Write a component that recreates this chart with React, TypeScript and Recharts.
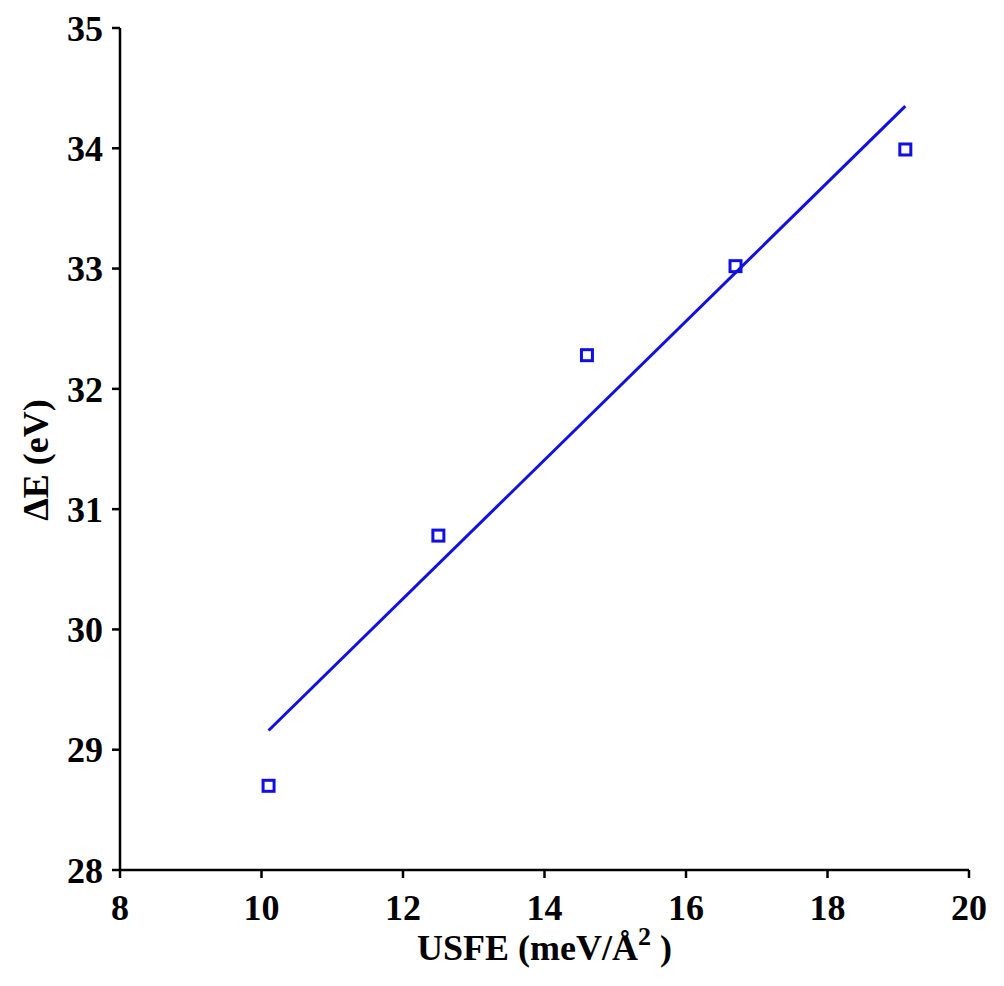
import { ScatterChart, Scatter, XAxis, YAxis, Label } from "recharts";

// measured points: USFE (meV/Å^2) vs ΔE (eV)
const usfe = [10.1, 12.5, 14.6, 16.7, 19.1];
const deltaE = [28.7, 30.78, 32.28, 33.02, 33.99];

// end points of the fitted line
const fitX = [10.1, 19.1];
const fitY = [29.16, 34.35];

const xTicks = [8, 10, 12, 14, 16, 18, 20];
const yTicks = [28, 29, 30, 31, 32, 33, 34, 35];

const points = usfe.map((x, i) => ({ x, y: deltaE[i] }));
const fit = fitX.map((x, i) => ({ x, y: fitY[i] }));

const BLUE = "#1010e0";
const FONT = "'Liberation Serif', 'Times New Roman', serif";

const SquareMark = (props: any) => {
  const { cx, cy } = props;
  return (
    <rect
      x={cx - 5.5}
      y={cy - 5.5}
      width={11}
      height={11}
      fill="none"
      stroke={BLUE}
      strokeWidth={3}
    />
  );
};

const NoMark = () => <g />;

const XTitle = (props: any) => {
  const { viewBox } = props;
  const cx = viewBox.x + viewBox.width / 2;
  return (
    <text
      x={cx}
      y={960}
      textAnchor="middle"
      fontFamily={FONT}
      fontWeight="bold"
      fontSize={36}
      fill="#000"
    >
      USFE (meV/Å
      <tspan dy={-15} fontSize={26}>
        2
      </tspan>
      <tspan dy={15}> )</tspan>
    </text>
  );
};

const YTitle = () => (
  <text
    x={0}
    y={0}
    transform="translate(48 460) rotate(-90)"
    textAnchor="middle"
    fontFamily={FONT}
    fontWeight="bold"
    fontSize={36}
    fill="#000"
  >
    ΔE (eV)
  </text>
);

const tickStyle = {
  fontFamily: FONT,
  fontSize: 36,
  fontWeight: "bold",
  fill: "#000",
};

export default function App() {
  return (
    <div style={{ position: "absolute", left: 0, top: 0, background: "#fff" }}>
      <ScatterChart
        width={1004}
        height={986}
        margin={{ top: 28, right: 35, bottom: 56, left: 40 }}
      >
        <XAxis
          type="number"
          dataKey="x"
          domain={[8, 20]}
          ticks={xTicks}
          height={60}
          tickSize={8}
          tickMargin={16}
          tick={tickStyle}
          axisLine={{ stroke: "#000", strokeWidth: 2.5 }}
          tickLine={{ stroke: "#000", strokeWidth: 2.5 }}
        >
          <Label content={<XTitle />} />
        </XAxis>
        <YAxis
          type="number"
          dataKey="y"
          domain={[28, 35]}
          ticks={yTicks}
          width={80}
          tickSize={8}
          tickMargin={9}
          tick={tickStyle}
          axisLine={{ stroke: "#000", strokeWidth: 2.5 }}
          tickLine={{ stroke: "#000", strokeWidth: 2.5 }}
        >
          <Label content={<YTitle />} />
        </YAxis>
        <Scatter
          data={fit}
          line={{ stroke: BLUE, strokeWidth: 3 }}
          shape={<NoMark />}
          isAnimationActive={false}
        />
        <Scatter
          data={points}
          shape={<SquareMark />}
          isAnimationActive={false}
        />
      </ScatterChart>
    </div>
  );
}
